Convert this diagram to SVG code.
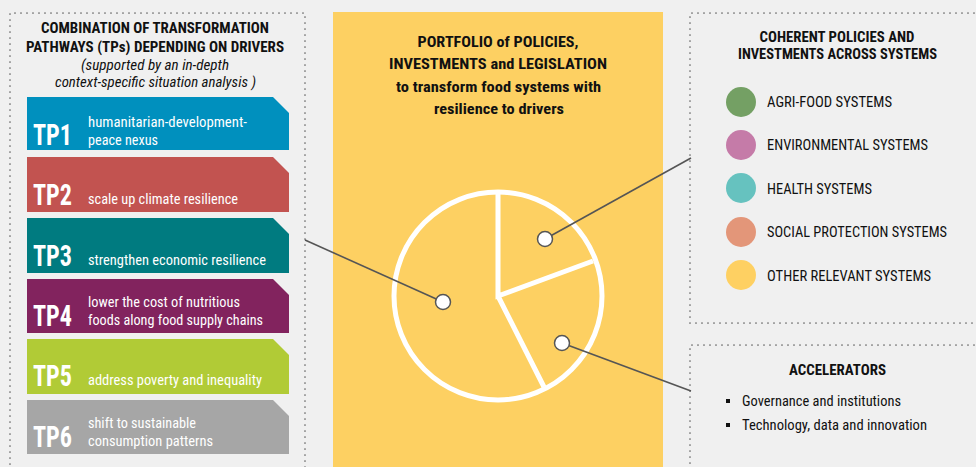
<svg xmlns="http://www.w3.org/2000/svg" width="976" height="467" viewBox="0 0 976 467">
<style>
text{font-family:"Roboto Condensed","Liberation Sans Narrow","Arial Narrow","Liberation Sans",sans-serif;}
.h{font-weight:bold;font-size:14px;fill:#111;}
.hi{font-style:italic;font-size:14px;fill:#111;}
.mt{font-weight:bold;font-size:15.5px;fill:#111;}
.tp{font-size:30px;font-weight:bold;fill:#fff;}
.td{font-size:14.5px;fill:#fff;}
.li{font-size:14px;fill:#111;}
.dot{fill:none;stroke:#666;stroke-width:1.7;stroke-dasharray:0 6;stroke-linecap:round;}
.con{stroke:#555;stroke-width:1.6;fill:none;}
.pt{fill:#fff;stroke:#555;stroke-width:1.5;}
</style>
<rect width="976" height="467" fill="#f0f0f0"/>

<g id="left-panel">
<path class="dot" d="M10,470 V13 H305 V470"/>
<text class="h" x="155" y="33" text-anchor="middle" textLength="228" lengthAdjust="spacingAndGlyphs">COMBINATION OF TRANSFORMATION</text>
<text class="h" x="155" y="52" text-anchor="middle" textLength="258" lengthAdjust="spacingAndGlyphs">PATHWAYS (TPs) DEPENDING ON DRIVERS</text>
<text class="hi" x="155" y="70" text-anchor="middle" textLength="148" lengthAdjust="spacingAndGlyphs">(supported by an in-depth</text>
<text class="hi" x="155.5" y="87" text-anchor="middle" textLength="201" lengthAdjust="spacingAndGlyphs">context-specific situation analysis )</text>
</g>

<g id="tp1">
<path d="M27,97 H273 L289,113 V150 H27 Z" fill="#0090be"/>
<text class="tp" x="33" y="145" textLength="39" lengthAdjust="spacingAndGlyphs">TP1</text>
<text class="td" x="88" y="127" textLength="159" lengthAdjust="spacingAndGlyphs">humanitarian-development-</text>
<text class="td" x="88" y="145" textLength="70" lengthAdjust="spacingAndGlyphs">peace nexus</text>
</g>
<g id="tp2">
<path d="M27,157 H273 L289,173 V212 H27 Z" fill="#c25350"/>
<text class="tp" x="33" y="205" textLength="39" lengthAdjust="spacingAndGlyphs">TP2</text>
<text class="td" x="88" y="204" textLength="150" lengthAdjust="spacingAndGlyphs">scale up climate resilience</text>
</g>
<g id="tp3">
<path d="M27,218 H273 L289,234 V273 H27 Z" fill="#007b80"/>
<text class="tp" x="33" y="266" textLength="39" lengthAdjust="spacingAndGlyphs">TP3</text>
<text class="td" x="88" y="265" textLength="178" lengthAdjust="spacingAndGlyphs">strengthen economic resilience</text>
</g>
<g id="tp4">
<path d="M27,279 H273 L289,295 V333 H27 Z" fill="#82235e"/>
<text class="tp" x="33" y="326" textLength="39" lengthAdjust="spacingAndGlyphs">TP4</text>
<text class="td" x="88" y="307" textLength="152" lengthAdjust="spacingAndGlyphs">lower the cost of nutritious</text>
<text class="td" x="88" y="325" textLength="175" lengthAdjust="spacingAndGlyphs">foods along food supply chains</text>
</g>
<g id="tp5">
<path d="M27,339 H273 L289,355 V394 H27 Z" fill="#b1cb36"/>
<text class="tp" x="33" y="386" textLength="39" lengthAdjust="spacingAndGlyphs">TP5</text>
<text class="td" x="88" y="385" textLength="174" lengthAdjust="spacingAndGlyphs">address poverty and inequality</text>
</g>
<g id="tp6">
<path d="M27,400 H273 L289,416 V454 H27 Z" fill="#a6a6a6"/>
<text class="tp" x="33" y="447" textLength="39" lengthAdjust="spacingAndGlyphs">TP6</text>
<text class="td" x="88" y="428" textLength="108" lengthAdjust="spacingAndGlyphs">shift to sustainable</text>
<text class="td" x="88" y="446" textLength="125" lengthAdjust="spacingAndGlyphs">consumption patterns</text>
</g>

<g id="portfolio">
<rect x="333" y="12" width="330" height="460" fill="#fdd062"/>
<text class="mt" x="498" y="47" text-anchor="middle" textLength="161" lengthAdjust="spacingAndGlyphs">PORTFOLIO of POLICIES,</text>
<text class="mt" x="498" y="69" text-anchor="middle" textLength="218" lengthAdjust="spacingAndGlyphs">INVESTMENTS and LEGISLATION</text>
<text class="mt" x="498.5" y="92" text-anchor="middle" textLength="205" lengthAdjust="spacingAndGlyphs">to transform food systems with</text>
<text class="mt" x="499" y="114" text-anchor="middle" textLength="130" lengthAdjust="spacingAndGlyphs">resilience to drivers</text>
<g id="pie" fill="none" stroke="#fff" stroke-width="5">
<circle cx="498" cy="296" r="104"/>
<path d="M498,193 V296 L593,261 M498,296 L544,387"/>
</g>
</g>

<g id="coherent">
<path class="dot" d="M980,13 H690 V323 H980"/>
<text class="h" x="837" y="42" text-anchor="middle" textLength="155" lengthAdjust="spacingAndGlyphs">COHERENT POLICIES AND</text>
<text class="h" x="837.5" y="59" text-anchor="middle" textLength="199" lengthAdjust="spacingAndGlyphs">INVESTMENTS ACROSS SYSTEMS</text>
<circle cx="741" cy="102" r="15" fill="#74a064"/>
<circle cx="741" cy="145" r="15" fill="#c57ba8"/>
<circle cx="741" cy="188" r="15" fill="#66c2bf"/>
<circle cx="741" cy="232" r="15" fill="#e39679"/>
<circle cx="741" cy="275" r="15" fill="#fed062"/>
<text class="li" x="767" y="107" textLength="125" lengthAdjust="spacingAndGlyphs">AGRI-FOOD SYSTEMS</text>
<text class="li" x="767" y="150" textLength="161" lengthAdjust="spacingAndGlyphs">ENVIRONMENTAL SYSTEMS</text>
<text class="li" x="767" y="194" textLength="105" lengthAdjust="spacingAndGlyphs">HEALTH SYSTEMS</text>
<text class="li" x="767" y="237" textLength="180" lengthAdjust="spacingAndGlyphs">SOCIAL PROTECTION SYSTEMS</text>
<text class="li" x="767" y="281" textLength="164" lengthAdjust="spacingAndGlyphs">OTHER RELEVANT SYSTEMS</text>
</g>

<g id="accelerators">
<path class="dot" d="M980,345 H690 V470"/>
<text class="h" x="837.5" y="375" text-anchor="middle" textLength="97" lengthAdjust="spacingAndGlyphs">ACCELERATORS</text>
<rect x="726" y="399" width="4" height="4" fill="#111"/>
<rect x="726" y="423" width="4" height="4" fill="#111"/>
<text class="li" x="742" y="406" textLength="159" lengthAdjust="spacingAndGlyphs">Governance and institutions</text>
<text class="li" x="742" y="430" textLength="185" lengthAdjust="spacingAndGlyphs">Technology, data and innovation</text>
</g>

<g id="connectors">
<path class="con" d="M305,240 L443,302"/>
<path class="con" d="M545,239 L691,158"/>
<path class="con" d="M562,343 L691,391"/>
<circle class="pt" cx="443" cy="302" r="7.5"/>
<circle class="pt" cx="545" cy="239" r="7.5"/>
<circle class="pt" cx="562" cy="343" r="7.5"/>
</g>
</svg>
